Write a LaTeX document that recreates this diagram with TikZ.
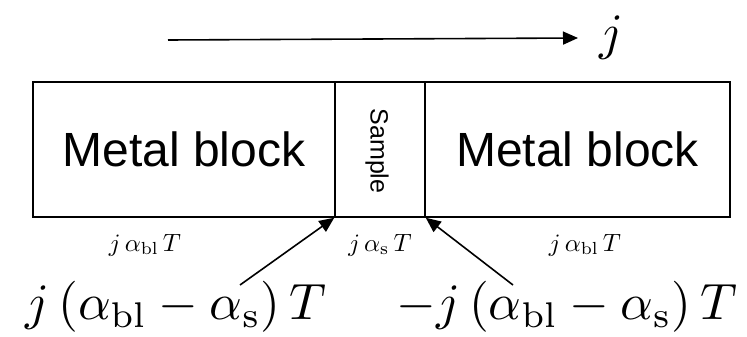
\documentclass[tikz,border=0pt]{standalone}
\usepackage[no-math]{fontspec}
\setmainfont{Liberation Sans}
\usetikzlibrary{arrows.meta}
\begin{document}
\begin{tikzpicture}[x=1pt,y=-1pt,
  blockbox/.style={draw,line width=1.5pt,minimum height=135pt,inner sep=0pt,font=\fontsize{48}{50}\selectfont},
  conn/.style={line width=1.6pt,-{Triangle[length=15pt,width=13pt]}},
  smalllab/.style={scale=2.5,inner sep=0pt},
  biglab/.style={scale=5.1,inner sep=0pt}]
\useasboundingbox (0,0) rectangle (747,337);
\node[blockbox,minimum width=302pt] (left) at (184,149.5) {Metal block};
\node[blockbox,minimum width=90pt] (sample) at (380,149.5) {};
\node[blockbox,minimum width=305pt] (right) at (577.5,149.5) {Metal block};
\node[rotate=-90,font=\fontsize{25}{28}\selectfont] (sampletext) at (377,151) {Sample};
\coordinate (jstart) at (168,40);
\node[biglab,anchor=west] (jtop) at (598,38) {$j$};
\draw[conn] (jstart) -- ([xshift=-20pt]jtop.west);
\node[smalllab] (lleft) at (145,245) {$j\,\alpha_{\rm bl}\,T$};
\node[smalllab] (lmid) at (380,245) {$j\,\alpha_{\rm s}\,T$};
\node[smalllab] (lright) at (585,245) {$j\,\alpha_{\rm bl}\,T$};
\node[biglab] (bigl) at (176,307) {$j\,(\alpha_{\rm bl}-\alpha_{\rm s})\,T$};
\node[biglab] (bigr) at (567,307) {$-j\,(\alpha_{\rm bl}-\alpha_{\rm s})\,T$};
\draw[conn] (240,285) -- (sample.south west);
\draw[conn] (513,285) -- (sample.south east);
\end{tikzpicture}
\end{document}
